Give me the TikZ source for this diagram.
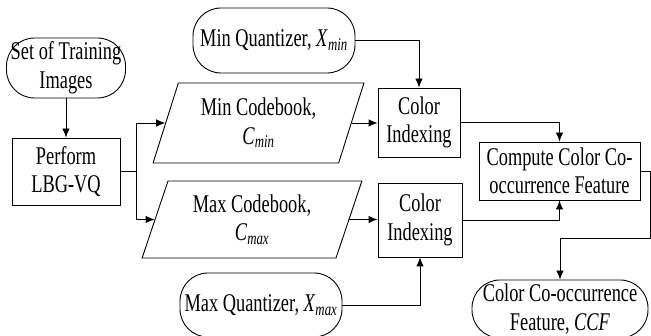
\documentclass[tikz,border=0pt]{standalone}
\usepackage{fontspec}
\setmainfont{Liberation Serif}[FakeStretch=0.72]
\usetikzlibrary{shapes.geometric,arrows.meta}
\tikzset{
	term/.style={draw, rounded corners=28pt, inner sep=0pt, align=center},
	proc/.style={draw, inner sep=0pt, align=center},
	data/.style={draw, trapezium, trapezium left angle=70,
		trapezium right angle=110, trapezium stretches=true,
		inner sep=0pt, align=center},
}
\newcommand{\symb}[2]{\textit{#1}\textsubscript{\textit{#2}}}
\begin{document}
\begin{tikzpicture}[x=1pt, y=-1pt, line width=0.9pt,
		>={Latex[length=9pt,width=7.5pt]},
		font=\fontsize{25.5}{28.5}\selectfont]
			\useasboundingbox (0,0) rectangle (651,336);
			% inputs and codebooks
			\node [term, minimum width=119pt, minimum height=60pt] (train)
				at (66,68) {Set of Training\\Images};
			\node [proc, minimum width=108pt, minimum height=67pt] (lbg)
				at (66,171.5) {Perform\\LBG-VQ};
			\node [data, minimum width=211pt, minimum height=80pt] (mincb)
				at (258.5,123) {Min Codebook,\\\symb{C}{min}};
			\node [data, minimum width=220pt, minimum height=77pt] (maxcb)
				at (252,219.5) {Max Codebook,\\\symb{C}{max}};
			\node [term, minimum width=162pt, minimum height=65pt] (minq)
				at (274,40.5) {Min Quantizer, \symb{X}{min}};
			\node [term, minimum width=162pt, minimum height=64pt] (maxq)
				at (261,305) {Max Quantizer, \symb{X}{max}};
			% indexing and feature
			\node [proc, minimum width=82pt, minimum height=69pt] (ci1)
				at (419,122.5) {Color\\Indexing};
			\node [proc, minimum width=84pt, minimum height=74pt] (ci2)
				at (420,220) {Color\\Indexing};
			\node [proc, minimum width=161pt, minimum height=58pt] (ccfcomp)
				at (559.5,171) {Compute Color Co-\\occurrence Feature};
			\node [term, minimum width=176pt, minimum height=58pt] (ccf)
				at (560,309) {Color Co-occurrence\\Feature, \textit{CCF}};
			% connectors
			\draw[->] (train) -- (lbg);
			\draw[->] (lbg.east) -- ++(16,0) |- (mincb.west);
			\draw[->] (lbg.east) -- ++(16,0) |- (maxcb.west);
			\draw[->] (mincb.east) -- (mincb.east -| ci1.west);
			\draw[->] (maxcb.east) -- (maxcb.east -| ci2.west);
			\draw[->] (minq.east) -| (ci1.north);
			\draw[->] (maxq.east) -| (ci2.south);
			\draw[->] (ci1.east) -| (ccfcomp.north);
			\draw[->] (ci2.east) -| (ccfcomp.south);
			\draw[->] (ccfcomp.east) -| ++(10,67) -| (ccf.north);
		\end{tikzpicture}
\end{document}
